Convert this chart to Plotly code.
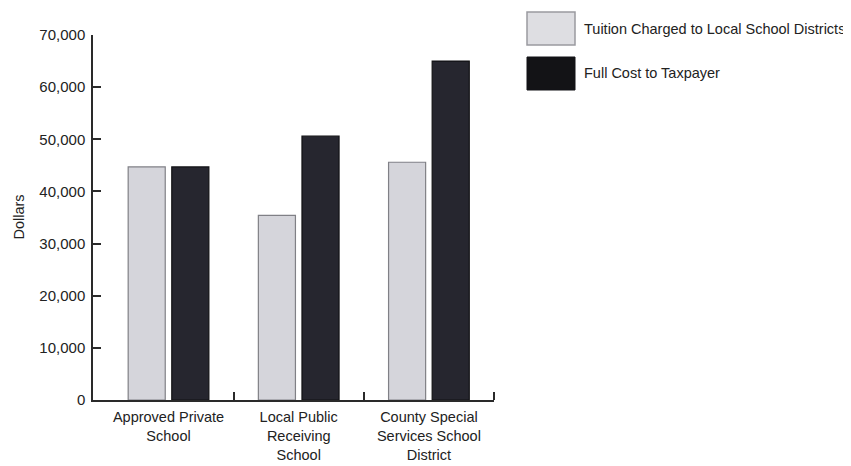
import plotly.graph_objects as go

categories = ["Approved Private<br>School", "Local Public<br>Receiving<br>School", "County Special<br>Services School<br>District"]
series_names = ["Tuition Charged to Local School Districts", "Full Cost to Taxpayer"]
tuition = [44700, 35400, 45600]
full_cost = [44700, 50600, 65000]
y_ticks = [0, 10000, 20000, 30000, 40000, 50000, 60000, 70000]

FONT = "Liberation Sans, Arial, sans-serif"
LIGHT = "#d5d5db"
DARK = "#26262f"

fig = go.Figure()
fig.add_trace(go.Bar(x=categories, y=tuition, name=series_names[0],
                     marker=dict(color=LIGHT, line=dict(color="#808086", width=1.2)),
                     showlegend=False))
fig.add_trace(go.Bar(x=categories, y=full_cost, name=series_names[1],
                     marker=dict(color=DARK, line=dict(color="#111114", width=1.2)),
                     showlegend=False))

# page body has an 8px margin, so the figure is 8px smaller on each axis
fig.update_layout(
    width=843, height=458,
    margin=dict(l=85, r=357, t=27, b=66),
    paper_bgcolor="white", plot_bgcolor="white",
    barmode="group", bargap=0.33, bargroupgap=0.15,
    font=dict(family=FONT, size=14, color="#222222"),
    xaxis=dict(
        range=[-0.58, 2.5], automargin=False,
        showline=True, linecolor="#2a2a2a", linewidth=1.5,
        ticks="", showgrid=False, ticklabelstandoff=3,
        tickfont=dict(size=14.5, color="#222222"),
        minor=dict(ticks="inside", ticklen=8, tickcolor="#2a2a2a", tickwidth=1.5,
                   tickmode="array", tickvals=[0.5, 1.5, 2.5]),
    ),
    yaxis=dict(
        range=[0, 70000], automargin=False,
        tickvals=y_ticks, tickformat=",d",
        showline=True, linecolor="#2a2a2a", linewidth=1.5,
        ticks="inside", ticklen=8, tickcolor="#2a2a2a", tickwidth=1.5,
        showgrid=False, zeroline=False, ticklabelstandoff=3,
        tickfont=dict(size=15, color="#222222"),
    ),
)

# Y axis title
fig.add_annotation(text="Dollars", xref="paper", yref="paper", x=-0.187, y=0.5,
                   xanchor="center", yanchor="middle",
                   textangle=-90, showarrow=False, font=dict(size=14.5, color="#222222"))

# Custom legend with large swatches
fig.add_shape(type="rect", xref="paper", yref="paper", x0=1.0823, x1=1.202, y0=0.9726, y1=1.063,
              fillcolor="#dedee2", line=dict(color="#9a9aa0", width=1.5))
fig.add_shape(type="rect", xref="paper", yref="paper", x0=1.0823, x1=1.202, y0=0.8493, y1=0.9397,
              fillcolor="#131316", line=dict(color="#131316", width=1))
fig.add_annotation(text=series_names[0], xref="paper", yref="paper", x=1.2195, y=1.0164,
                   xanchor="left", yanchor="middle", showarrow=False, font=dict(size=14.5, color="#222222"))
fig.add_annotation(text=series_names[1], xref="paper", yref="paper", x=1.2195, y=0.8959,
                   xanchor="left", yanchor="middle", showarrow=False, font=dict(size=14.5, color="#222222"))

fig.write_html("out.html")
